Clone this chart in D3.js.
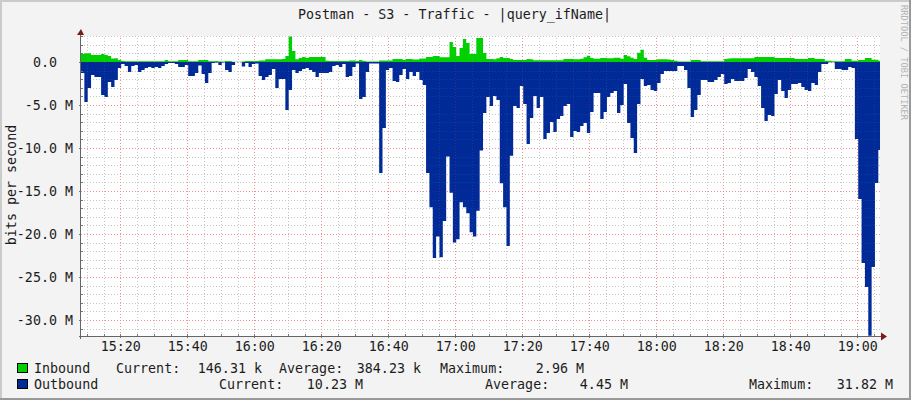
<!DOCTYPE html>
<html>
<head>
<meta charset="utf-8">
<script src="https://cdnjs.cloudflare.com/ajax/libs/d3/7.8.5/d3.min.js"></script>
<style>
  html, body { margin: 0; padding: 0; background: #f3f3f3; }
  svg { display: block; }
  text { font-family: "DejaVu Sans Mono", monospace; font-size: 13.33px; fill: #1c1c1c; white-space: pre; }
</style>
</head>
<body>
<svg id="chart" width="911" height="400"></svg>
<script>
// one sample per minute, values in Mbit/s
const inbound = [
  .93,1.01,1.01,.81,.81,.81,.93,.81,.70,.41,
  .43,.23,.12,.08,.08,.08,.08,.08,.08,.08,
  .08,.08,.08,.08,.08,.23,.08,.08,.08,.23,
  .23,.23,.08,.08,.08,.23,.23,.23,.08,.08,
  .12,.06,.06,.12,.12,.03,.03,.03,.05,.12,
  .12,.12,.12,.17,.17,.31,.31,.31,.31,.31,
  .35,.70,2.96,1.28,.31,.47,.58,.47,.58,.58,
  .58,.58,.58,.15,.12,.12,.12,.12,.12,.12,
  .17,.17,.12,.23,.12,.07,.06,.06,.06,.17,
  .17,.17,.17,.35,.35,.35,.23,.35,.35,.29,
  .29,.41,.41,.58,.58,.70,.70,.55,.55,.55,
  2.33,1.74,.70,1.63,2.67,2.21,.93,.93,2.79,2.79,
  1.05,.35,.35,.31,.43,.58,.47,.47,.35,.23,
  .23,.23,.23,.35,.31,.20,.20,.20,.20,.20,
  .20,.20,.20,.20,.35,.35,.35,.31,.31,.38,
  .55,.73,.47,.38,.38,.47,.47,.43,.43,.50,
  .50,.38,.81,.66,.50,.35,1.08,1.43,.50,.23,
  .23,.23,.31,.31,.31,.29,.23,.15,.06,.06,
  .06,.06,.23,.23,.23,.08,.08,.08,.08,.08,
  .08,.08,.35,.41,.43,.43,.43,.43,.43,.43,
  .43,.58,.58,.58,.58,.58,.58,.47,.47,.47,
  .47,.47,.47,.35,.35,.35,.35,.47,.47,.35,
  .35,.35,.15,.15,.08,.08,.08,.08,.35,.35,
  .15,.15,.23,.23,.47,.47,.27,.27,.15
];
const outbound = [
  1.28,4.65,3.02,1.51,1.74,1.74,3.84,4.07,2.33,2.91,
  2.09,.70,.23,.47,1.16,.47,.35,1.16,.93,.70,
  .58,.70,.58,.70,.47,.23,.12,.12,.23,.58,
  .58,.35,1.63,1.63,1.28,.41,1.40,2.44,1.28,.12,
  .06,.35,.06,.93,1.16,.35,0,0,.52,.12,
  .58,.23,.17,1.63,2.09,1.74,1.51,.81,3.02,1.98,
  1.98,5.58,3.26,.93,1.28,1.05,.81,.70,.93,1.16,
  1.74,1.28,1.28,1.28,1.16,.47,.35,.58,.23,1.74,
  1.63,.58,.17,4.30,4.07,1.16,.17,.17,.17,12.9,
  7.67,.93,.70,2.21,2.33,1.51,.81,1.98,1.16,1.63,
  1.16,2.09,2.67,12.9,16.9,22.8,20.3,22.7,18.5,11.0,
  15.2,21.0,20.6,16.3,16.9,17.6,19.8,20.3,17.3,10.3,
  5.93,4.07,5.12,3.95,4.42,14.1,16.9,21.4,10.9,5.12,
  5.35,2.79,4.88,9.53,6.51,3.95,5.35,4.07,8.95,8.26,
  6.98,8.14,6.63,6.28,5.12,4.88,8.72,8.02,8.14,7.44,
  7.09,8.26,5.81,3.60,3.60,6.63,5.81,4.07,3.60,3.37,
  5.93,5.00,2.56,7.09,8.84,10.58,4.88,1.98,2.79,2.67,
  3.26,3.37,2.44,1.40,1.05,1.05,1.05,1.05,.47,.47,
  .93,3.02,6.40,5.58,3.84,2.09,2.09,2.33,2.33,2.09,
  1.74,1.40,2.56,2.44,1.98,2.21,2.21,2.21,1.86,.81,
  1.16,1.74,2.79,5.35,6.86,6.16,6.28,3.72,2.09,3.37,
  4.19,3.26,2.56,2.56,2.44,2.91,3.26,3.37,2.44,2.67,
  1.16,.23,.23,.03,.03,.81,.81,.93,.93,.58,
  .70,8.95,15.93,23.37,26.16,31.82,23.84,14.07,10.23
];
const yMajorTicks = [0, -5, -10, -15, -20, -25, -30];
const yMinorTicks = d3.range(3, -32, -1).filter(d => d % 5 !== 0);
const legendNames = ["Inbound", "Outbound"];
const legendColors = ["#00cf00", "#002a97"];
const legendLabels = [
  ["Current:", "Average:", "Maximum:"],
  ["Current:", "Average:", "Maximum:"]
];
const legendValues = [
  ["146.31 k", "384.23 k", "2.96 M"],
  ["10.23 M", "4.45 M", "31.82 M"]
];

const startTime = new Date(2020, 0, 1, 15, 8, 16);
const endTime = new Date(2020, 0, 1, 19, 6, 46);

const plotLeft = 81, plotRight = 880, plotTop = 36, plotBottom = 336;
const svg = d3.select("#chart");

// frame
svg.append("rect").attr("width", 911).attr("height", 400).attr("fill", "#f3f3f3");
svg.append("path").attr("d", "M0 0H911V2H2V400H0Z").attr("fill", "#cbcbcb");
svg.append("path").attr("d", "M911 0V400H0V398H909V0Z").attr("fill", "#999");
svg.append("rect").attr("x", plotLeft).attr("y", plotTop).attr("width", plotRight - plotLeft).attr("height", plotBottom - plotTop).attr("fill", "#fff");

const x = d3.scaleTime().domain([startTime, endTime]).range([plotLeft, plotRight]);
const y = d3.scaleLinear().domain([3.023, -31.86]).range([plotTop, plotBottom]);

const times = inbound.map((d, i) => d3.timeMinute.offset(startTime, i));
const inRows = inbound.map((d, i) => ({ t: times[i], v: d }));
const outRows = outbound.map((d, i) => ({ t: times[i], v: -d }));
inRows.push({ t: endTime, v: inbound[inbound.length - 1] });
outRows.push({ t: endTime, v: -outbound[outbound.length - 1] });

const area = d3.area()
  .curve(d3.curveStepAfter)
  .x(d => x(d.t))
  .y0(y(0))
  .y1(d => y(d.v));

svg.append("clipPath").attr("id", "plot").append("rect")
  .attr("x", plotLeft).attr("y", plotTop).attr("width", plotRight - plotLeft).attr("height", plotBottom - plotTop);

function grid(axis, tx, tickColor) {
  const g = svg.append("g").attr("transform", tx).call(axis);
  g.select(".domain").remove();
  g.selectAll("line")
    .attr("stroke", tickColor)
    .attr("stroke-dasharray", "1,2")
    .attr("shape-rendering", "crispEdges");
  return g;
}

// the whole grid twice: solid looking under the areas, barely there on top
function drawGrid(minorColor, majorColor) {
  grid(d3.axisLeft(y).tickValues(yMinorTicks).tickSize(-(plotRight - plotLeft)).tickFormat(""),
    `translate(${plotLeft},0)`, minorColor);
  grid(d3.axisBottom(x).ticks(d3.timeMinute.every(5)).tickSize(-(plotBottom - plotTop)).tickFormat(""),
    `translate(0,${plotBottom})`, minorColor);
  grid(d3.axisLeft(y).tickValues(yMajorTicks).tickSize(-(plotRight - plotLeft)).tickFormat(""),
    `translate(${plotLeft},0)`, majorColor);
  grid(d3.axisBottom(x).ticks(d3.timeMinute.every(20)).tickSize(-(plotBottom - plotTop)).tickFormat(""),
    `translate(0,${plotBottom})`, majorColor);
}

drawGrid("#c6c6c6", "#f2a6a6");

const marks = svg.append("g").attr("clip-path", "url(#plot)");
marks.append("path").datum(outRows).attr("fill", legendColors[1]).attr("d", area);
marks.append("path").datum(inRows).attr("fill", legendColors[0]).attr("d", area);

drawGrid("rgba(186,186,186,0.12)", "rgba(255,0,0,0.14)");

// axes and labels
const fmtTime = d3.timeFormat("%H:%M");
const yLabel = d => d === 0 ? "0.0  " : d3.format(".1f")(d).replace("\u2212", "-") + " M";

const yAxis = svg.append("g").attr("transform", `translate(${plotLeft},0)`)
  .call(d3.axisLeft(y).tickValues(yMajorTicks).tickSize(2).tickPadding(6).tickFormat(yLabel));
yAxis.select(".domain").remove();
yAxis.selectAll("text").attr("dy", "0.36em").attr("x", -8);

const xAxis = svg.append("g").attr("transform", `translate(0,${plotBottom})`)
  .call(d3.axisBottom(x).ticks(d3.timeMinute.every(20)).tickSize(2).tickPadding(3).tickFormat(fmtTime));
xAxis.select(".domain").remove();
xAxis.selectAll("text").attr("dy", null).attr("y", 15);

// short minor ticks along both axes
const xMinor = svg.append("g").attr("transform", `translate(0,${plotBottom})`)
  .call(d3.axisBottom(x).ticks(d3.timeMinute.every(5)).tickSize(-2).tickFormat(""));
xMinor.select(".domain").remove();
const yMinor = svg.append("g").attr("transform", `translate(${plotLeft},0)`)
  .call(d3.axisLeft(y).tickValues(yMinorTicks).tickSize(-2).tickFormat(""));
yMinor.select(".domain").remove();

[yAxis, xAxis, xMinor, yMinor].forEach(g =>
  g.selectAll("line").attr("stroke", "#777").attr("shape-rendering", "crispEdges"));
svg.selectAll("g").attr("font-family", null).attr("font-size", null);

svg.append("line").attr("x1", plotLeft - 2).attr("x2", plotRight + 2).attr("y1", plotBottom + .5).attr("y2", plotBottom + .5)
  .attr("stroke", "#666");
svg.append("line").attr("x1", plotLeft - .5).attr("x2", plotLeft - .5).attr("y1", plotTop - 2).attr("y2", plotBottom + 3)
  .attr("stroke", "#666");

// arrow heads
svg.append("path").attr("d", `M${plotLeft - 4} 35L${plotLeft} 29L${plotLeft + 3} 35Z`).attr("fill", "#7f1a1a");
svg.append("path").attr("d", `M${plotRight + 1} 332.5L${plotRight + 7} 336.5L${plotRight + 1} 340.5Z`).attr("fill", "#7f1a1a");

// title and side labels
svg.append("text").attr("x", 454.5).attr("y", 19).attr("text-anchor", "middle")
  .text("Postman - S3 - Traffic - |query_ifName|");
svg.append("text").attr("transform", "translate(16,185) rotate(-90)").attr("text-anchor", "middle")
  .text("bits per second");
svg.append("text").attr("transform", "translate(901,5) rotate(90)")
  .style("font-size", "8.7px").style("fill", "#b4b4b4")
  .text("RRDTOOL / TOBI OETIKER");

// legend
const rowBase = [373, 389];
const boxTop = [363, 379];
const labelX = [[116, 279, 440], [219, 485, 749]];
const valueEnd = [[262, 421, 584], [363, 628, 893]];

legendNames.forEach((name, r) => {
  svg.append("rect").attr("x", 17.5).attr("y", boxTop[r] + .5).attr("width", 10).attr("height", 9)
    .attr("fill", legendColors[r]).attr("stroke", "#000");
  svg.append("text").attr("x", 34).attr("y", rowBase[r]).text(name);
  legendLabels[r].forEach((lab, c) => {
    svg.append("text").attr("x", labelX[r][c]).attr("y", rowBase[r]).text(lab);
    svg.append("text").attr("x", valueEnd[r][c]).attr("y", rowBase[r]).attr("text-anchor", "end").text(legendValues[r][c]);
  });
});
</script>
</body>
</html>
